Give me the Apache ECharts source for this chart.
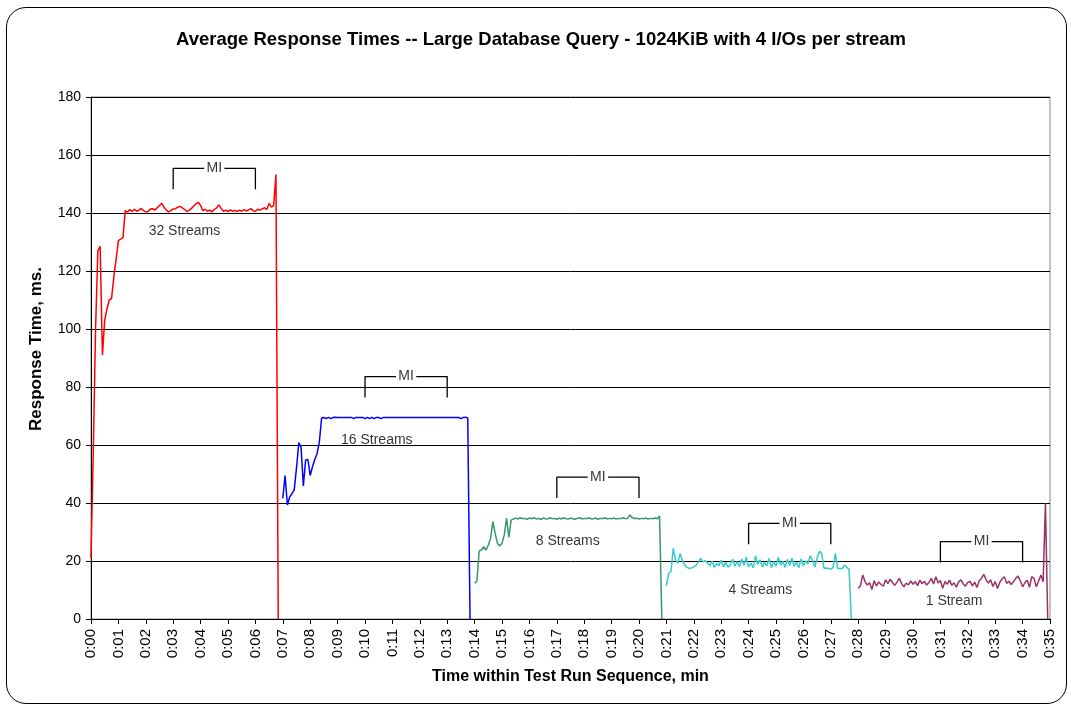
<!DOCTYPE html>
<html>
<head>
<meta charset="utf-8">
<title>Average Response Times</title>
<script src="https://cdn.jsdelivr.net/npm/echarts/dist/echarts.min.js"></script>
<style>
  html, body { margin: 0; padding: 0; background: #fff; }
  #frame { position: absolute; left: 6px; top: 7px; width: 1061px; height: 697px;
           border: 1px solid #000; border-radius: 20px; box-sizing: border-box; }
  #chart { position: absolute; left: 0; top: 0; width: 1071px; height: 707px; }
</style>
</head>
<body>
<div id="frame"></div>
<div id="chart"></div>
<script>
// Samples are taken every 5 seconds: 12 samples per minute.
const SAMPLES_PER_MIN = 12;

// Response time (ms) for each stream count; START_* is the sample index of the first value.
const STREAMS_32_START = 0;
const STREAMS_32 = [
  21, 58, 100, 127, 128.5, 91, 103, 107, 110, 110.5, 118, 124, 130.5, 131, 131.5,
  140.8, 140.3, 141.2, 140.5, 141.3, 140.6, 141.0, 141.6, 140.8, 140.4, 140.5, 141.4,
  141.5, 141.0, 141.8, 142.6, 143.3, 142.0, 141.0, 140.4, 140.8, 141.4, 141.5, 142.0,
  142.3, 141.8, 141.2, 140.5, 141.0, 141.6, 142.4, 143.2, 143.7, 142.6, 140.8, 141.3,
  140.6, 141.0, 140.4, 141.2, 141.8, 142.8, 141.6, 140.6, 141.0, 140.5, 141.1, 140.6,
  140.9, 140.5, 141.0, 140.6, 141.2, 140.7, 141.1, 141.5, 140.8, 140.6, 141.3, 141.0,
  141.4, 141.8, 141.2, 143.3, 142.0, 142.6, 153.3, 0
];

const STREAMS_16_START = 84;
const STREAMS_16 = [
  41.6, 49.5, 39.3, 42, 43.2, 44.5, 52, 60.8, 59.2, 45.9, 54.8, 55, 49.5, 52.5, 55, 57,
  61, 69.3, 69.5, 69.1, 69.5, 69.1, 69.5, 69.6, 69.5, 69.5, 69.5, 69.5, 69.5, 69.5,
  69.5, 69.1, 69.5, 69.5, 69.5, 69.5, 69.1, 69.5, 69.1, 69.5, 69.1, 69.5, 69.5, 69.1,
  69.5, 69.5, 69.5, 69.5, 69.5, 69.5, 69.5, 69.5, 69.5, 69.5, 69.5, 69.5, 69.5, 69.5,
  69.5, 69.5, 69.5, 69.5, 69.5, 69.5, 69.5, 69.5, 69.5, 69.5, 69.5, 69.5, 69.5, 69.5,
  69.5, 69.5, 69.5, 69.5, 69.5, 69.5, 69.1, 69.5, 69.6, 69.3, 0
];

const STREAMS_8_START = 168;
const STREAMS_8 = [
  12.3, 13.1, 23.5, 23.8, 24.9, 23.8, 25.5, 27.8, 33.6, 29.5, 26.1, 25.2, 26.1, 29.0,
  34.7, 28.2, 34.1, 34.5, 34.8, 34.5, 34.9, 34.6, 34.7, 34.4, 34.8, 34.6, 34.9, 34.5,
  34.7, 34.3, 34.8, 34.6, 34.5, 34.9, 34.6, 34.7, 34.4, 34.8, 34.5, 34.9, 34.6, 34.5,
  34.8, 34.6, 34.4, 34.7, 34.9, 34.5, 34.7, 34.6, 34.9, 34.5, 34.6, 34.8, 34.4, 34.7,
  34.6, 34.9, 34.5, 34.7, 34.6, 34.8, 34.5, 34.7, 34.6, 34.9, 34.6, 34.7, 35.9, 35.0,
  34.6, 34.8, 34.5, 34.7, 34.6, 34.8, 34.5, 34.7, 34.6, 34.8, 34.6, 35.5, 0
];

const STREAMS_4_START = 252;
const STREAMS_4 = [
  11.4, 15.8, 16.3, 24.4, 20.3, 19.2, 22.6, 20.3, 18.6, 17.8, 17.5, 17.6, 18.0, 18.5,
  19.6, 20.9, 19.7, 20.1, 19.4, 18.3, 20.0, 17.8, 19.2, 18.4, 20.3, 18.0, 19.5, 17.9,
  18.6, 20.6, 18.2, 19.8, 18.1, 20.7, 18.5, 21.3, 18.0, 19.3, 17.6, 21.7, 18.8, 20.4,
  17.9, 19.6, 18.3, 20.9, 17.7, 19.8, 18.2, 21.2, 18.6, 19.9, 17.8, 20.5, 18.4, 21.0,
  18.1, 19.6, 17.7, 20.8, 18.3, 20.1, 19.0, 21.8, 20.2, 17.9, 21.0, 23.4, 22.6, 17.5,
  17.6, 17.4, 17.2, 17.8, 22.6, 17.5, 17.4, 17.4, 18.6, 17.8, 17.2, 0
];

const STREAMS_1_START = 336;
const STREAMS_1 = [
  10.6, 11.5, 15.2, 12.9, 11.7, 12.5, 10.2, 13.2, 11.4, 12.8, 11.9, 11.3, 13.5, 12.2,
  13.7, 12.6, 11.6, 12.7, 14.0, 12.3, 11.1, 12.4, 11.8, 13.1, 12.0, 12.9, 11.5, 13.4,
  12.2, 13.0, 11.7, 12.6, 14.0, 12.1, 14.6, 12.4, 13.3, 10.6, 12.9, 12.0, 13.4, 11.6,
  12.5, 11.0, 12.8, 13.5, 12.1, 11.3, 12.6, 13.0, 11.4, 12.7, 10.9, 13.1, 14.1, 15.4,
  13.6, 12.4, 13.5, 11.2, 12.9, 10.5, 12.6, 13.8, 14.6, 12.3, 13.0, 11.9, 12.8, 14.0,
  14.8, 13.2, 11.1, 12.5, 13.4, 10.9, 14.6, 14.0, 11.1, 13.0, 15.2, 12.8, 39.9, 0
];

// Series names and colours
const SERIES_NAMES = ['32 Streams', '16 Streams', '8 Streams', '4 Streams', '1 Stream'];
const SERIES_COLORS = ['#FF0000', '#0000FF', '#339966', '#33CCCC', '#993366'];

// Text labels placed under each run: [minute, ms]
const RUN_LABEL_POS = [[3.41, 133.9], [10.43, 61.7], [17.4, 27.0], [24.43, 10.0], [31.5, 6.3]];

// Measurement-interval brackets: start/end minute and height (ms) of the top bar
const MI_START = [3, 10, 17, 24, 31];
const MI_END = [6, 13, 20, 27, 34];
const MI_TOP = [155.4, 83.6, 48.9, 33.0, 26.7];
const MI_LEG = 7.2;      // bracket leg length, ms
const MI_GAP = 0.37;     // half-width of the break around "MI", minutes

// X tick labels, one per minute
const X_LABELS = Array.from({ length: 36 }, (_, m) => '0:' + String(m).padStart(2, '0'));

const runs = [
  [STREAMS_32_START, STREAMS_32],
  [STREAMS_16_START, STREAMS_16],
  [STREAMS_8_START, STREAMS_8],
  [STREAMS_4_START, STREAMS_4],
  [STREAMS_1_START, STREAMS_1]
];

const FONT = '"Liberation Sans", Arial, sans-serif';

const series = [];

runs.forEach(([start, values], k) => {
  series.push({
    name: SERIES_NAMES[k],
    type: 'line',
    data: values.map((v, i) => [(start + i) / SAMPLES_PER_MIN, v]),
    showSymbol: false,
    symbol: 'none',
    lineStyle: { color: SERIES_COLORS[k], width: 1.5 },
    itemStyle: { color: SERIES_COLORS[k] },
    silent: true,
    z: 3
  });
});

// Run labels
series.push({
  type: 'scatter',
  symbolSize: 0,
  silent: true,
  data: RUN_LABEL_POS.map((p, k) => ({ value: p, name: SERIES_NAMES[k] })),
  label: {
    show: true, position: 'inside', formatter: '{b}',
    color: '#000', fontFamily: FONT, fontSize: 14
  },
  z: 5
});

// MI brackets: two halves each, leaving a gap for the text
MI_START.forEach((a, k) => {
  const b = MI_END[k], top = MI_TOP[k], mid = (a + b) / 2;
  const common = {
    type: 'line', symbol: 'none', silent: true,
    lineStyle: { color: '#000', width: 1.3 }, z: 4
  };
  series.push(Object.assign({}, common, {
    data: [[a, top - MI_LEG], [a, top], [mid - MI_GAP, top]]
  }));
  series.push(Object.assign({}, common, {
    data: [[mid + MI_GAP, top], [b, top], [b, top - MI_LEG]]
  }));
});
series.push({
  type: 'scatter',
  symbolSize: 0,
  silent: true,
  data: MI_START.map((a, k) => [(a + MI_END[k]) / 2, MI_TOP[k]]),
  label: {
    show: true, position: 'inside', formatter: 'MI',
    color: '#000', fontFamily: FONT, fontSize: 14
  },
  z: 5
});

const chart = echarts.init(document.getElementById('chart'), null, { renderer: 'canvas' });
chart.setOption({
  animation: false,
  backgroundColor: 'transparent',
  textStyle: { fontFamily: FONT },
  title: {
    text: 'Average Response Times -- Large Database Query - 1024KiB with 4 I/Os per stream',
    left: 536,
    textAlign: 'center',
    top: 25,
    textStyle: { fontFamily: FONT, fontSize: 18.5, fontWeight: 'bold', color: '#000' }
  },
  grid: {
    left: 91, right: 21, top: 97, bottom: 88,
    show: true, borderColor: '#888', borderWidth: 1, backgroundColor: 'transparent'
  },
  xAxis: {
    type: 'value',
    min: 0, max: 35, interval: 1,
    axisLine: { show: true, onZero: false, lineStyle: { color: '#000', width: 1 } },
    axisTick: { show: true, inside: false, length: 5, lineStyle: { color: '#000' } },
    splitLine: { show: false },
    axisLabel: {
      rotate: 90, margin: 10, color: '#000', fontFamily: FONT, fontSize: 15,
      formatter: v => X_LABELS[Math.round(v)]
    },
    name: 'Time within Test Run Sequence, min',
    nameLocation: 'middle',
    nameGap: 50,
    nameTextStyle: { fontFamily: FONT, fontSize: 16, fontWeight: 'bold', color: '#000' }
  },
  yAxis: {
    type: 'value',
    min: 0, max: 180, interval: 20,
    axisLine: { show: true, lineStyle: { color: '#000', width: 1 } },
    axisTick: { show: true, inside: false, length: 5, lineStyle: { color: '#000' } },
    splitLine: { show: true, lineStyle: { color: '#000', width: 1 } },
    axisLabel: { margin: 10, color: '#000', fontFamily: FONT, fontSize: 14 },
    name: 'Response Time, ms.',
    nameLocation: 'middle',
    nameGap: 46,
    nameRotate: 90,
    nameTextStyle: { fontFamily: FONT, fontSize: 17, fontWeight: 'bold', color: '#000',
                     padding: [0, 0, 0, 18] }
  },
  series: series
});
</script>
</body>
</html>
